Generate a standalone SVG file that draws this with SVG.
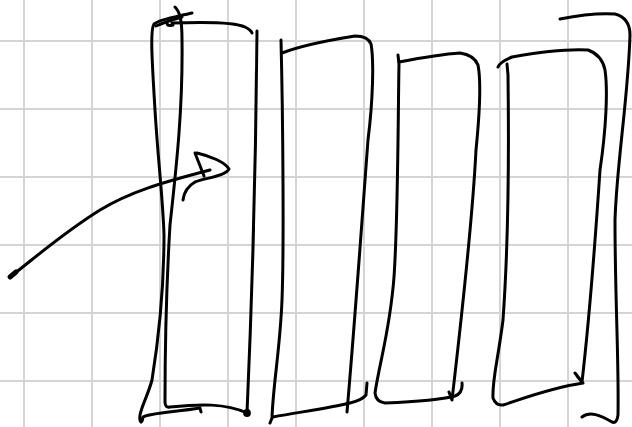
<svg xmlns="http://www.w3.org/2000/svg" width="632" height="427" viewBox="0 0 632 427">
<style>
.grid line{stroke:#d4d4d4;stroke-width:2}
.ink{fill:none;stroke:#000;stroke-width:3;stroke-linecap:round;stroke-linejoin:round}
</style>
<rect width="632" height="427" fill="#fff"/>
<g class="grid">
<line x1="24" y1="0" x2="24" y2="427"/><line x1="92" y1="0" x2="92" y2="427"/><line x1="160" y1="0" x2="160" y2="427"/><line x1="228" y1="0" x2="228" y2="427"/><line x1="296" y1="0" x2="296" y2="427"/><line x1="364" y1="0" x2="364" y2="427"/><line x1="432" y1="0" x2="432" y2="427"/><line x1="500" y1="0" x2="500" y2="427"/><line x1="568" y1="0" x2="568" y2="427"/>
<line x1="0" y1="41" x2="632" y2="41"/><line x1="0" y1="109" x2="632" y2="109"/><line x1="0" y1="177" x2="632" y2="177"/><line x1="0" y1="245" x2="632" y2="245"/><line x1="0" y1="313" x2="632" y2="313"/><line x1="0" y1="381" x2="632" y2="381"/>
</g>
<g id="box1" class="ink">
<path d="M192,13 C175,17 160,19 154,24 C150,30 152,60 155,110 C158,160 163,200 164,235 C164,285 160,330 152,380 C148,395 142,405 140,415 C139,423 142,425 143,417 C150,413 175,412 200,408 L201,412"/>
<path d="M156,26 C165,22 175,19 182,17 M168,21 Q165,27 173,25"/>
<path d="M175,7 C180,12 182,20 182,40 C183,110 176,170 170,225 C167,275 165,340 165,402 Q165,408 170,407 C200,404 225,403 247,413"/>
<path d="M172,23 C200,22 235,22 245,27 Q251,30 252,33"/>
<path d="M257,31 C256,150 252,300 247,413"/>
<circle cx="247" cy="413" r="2.4" fill="#000"/>
</g>
<g id="box2" class="ink">
<path d="M281,40 C283,120 284,250 282,300 C280,350 273,385 272,418 L270,423"/>
<path d="M282,53 C300,46 330,40 355,36 Q368,36 371,44 C374,60 373,100 368,140 C362,220 355,320 347,412"/>
<path d="M273,417 C300,412 330,408 350,403 Q362,400 366,395 L367,383"/>
</g>
<g id="box3" class="ink">
<path d="M398,55 L399,64 C398,120 398,220 394,277 C390,330 380,360 375,393 Q376,402 385,403 C410,402 440,400 455,396 Q463,393 462,383"/>
<path d="M399,62 C420,58 445,54 460,53 Q474,55 478,65 C481,80 480,110 476,150 C472,230 460,330 452,400 L449,392"/>
</g>
<g id="box4" class="ink">
<path d="M498,67 Q500,62 512,57 C540,52 570,49 588,50 Q602,55 605,70 C608,90 606,130 600,170 C594,260 588,330 582,382 L575,373 M582,382 L577,376"/>
<path d="M507,64 L508,75 C509,150 508,250 503,320 C498,360 492,380 493,398 Q496,406 503,405 C525,398 550,388 583,383"/>
</g>
<g id="box5" class="ink">
<path d="M560,19 C580,15 600,13 615,14 Q630,18 630,35 C628,100 617,160 615,220 C615,300 619,360 618,415 Q617,424 612,422 C600,415 590,411 582,417"/>
</g>
<g id="connectors" class="ink">
<path d="M10,277 C30,262 60,235 100,210 C130,192 160,183 210,170"/>
<path d="M10,277 L16,272" stroke-width="5"/>
<path d="M195,153 L204,176 M197,153 C210,156 225,162 229,169 C226,176 205,178 195,182 C188,186 184,192 183,200"/>
</g>
</svg>
